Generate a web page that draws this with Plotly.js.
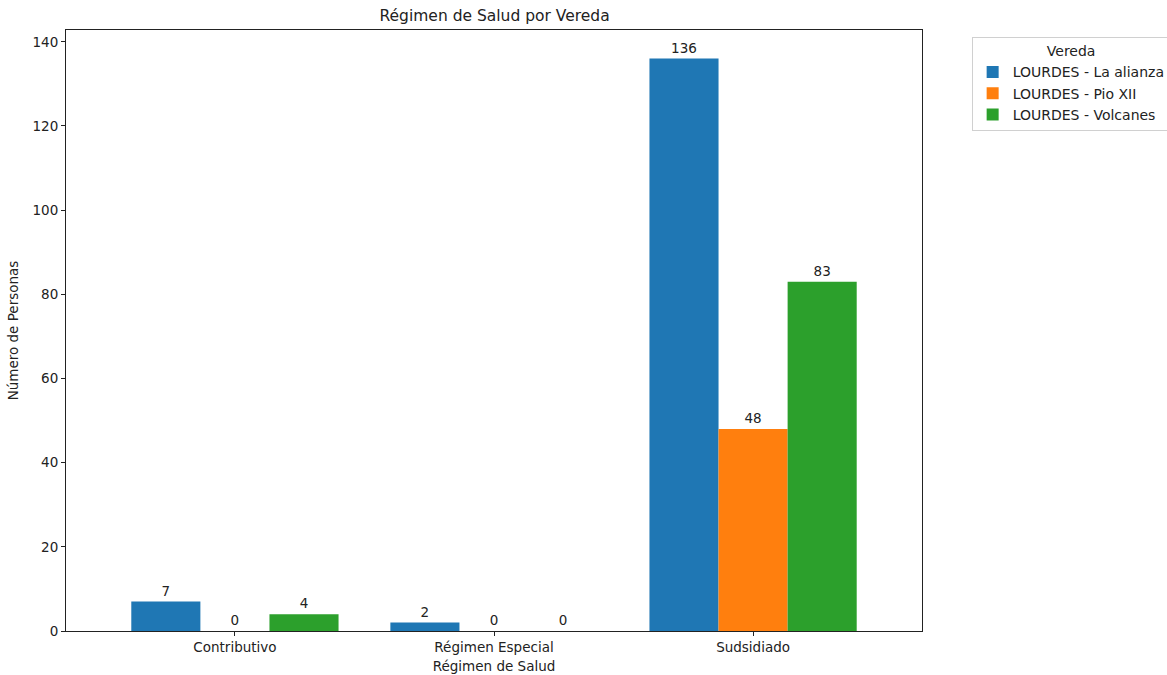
<!DOCTYPE html>
<html><head><meta charset="utf-8">
<script src="https://cdn.plot.ly/plotly-3.0.1.min.js"></script>
<style>html,body{margin:0;padding:0;background:#fff}#chart{width:1167px;height:675px}</style>
</head><body><div id="chart"></div>
<script>
const categories = ["Contributivo", "Régimen Especial", "Sudsidiado"];
const seriesNames = ["LOURDES - La alianza", "LOURDES - Pio XII", "LOURDES - Volcanes"];
const laAlianza = [7, 2, 136];
const pioXII = [0, 0, 48];
const volcanes = [4, 0, 83];
const yTicks = [0, 20, 40, 60, 80, 100, 120, 140];
const colors = ["#1f77b4", "#ff7f0e", "#2ca02c"];

const font = "DejaVu Sans, sans-serif";
const values = [laAlianza, pioXII, volcanes];
const traces = values.map((v, i) => ({
  type: "bar", name: seriesNames[i], x: categories, y: v,
  marker: {color: colors[i], line: {width: 0}},
  text: v.map(String), textposition: "outside", cliponaxis: false,
  textfont: {family: font, size: 13.5, color: "#222"},
  hoverinfo: "none"
}));

const layout = {
  width: 1167, height: 675,
  margin: {l: 66, r: 245, t: 30, b: 44, autoexpand: false},
  paper_bgcolor: "#fff", plot_bgcolor: "#fff",
  font: {family: font, size: 13.5, color: "#222"},
  title: {text: "Régimen de Salud por Vereda", x: 0.4238, xanchor: "center", y: 0.977, yanchor: "middle", font: {family: font, size: 15.5, color: "#222"}},
  barmode: "group", bargap: 0.2, bargroupgap: 0,
  xaxis: {
    range: [-0.652, 2.652], showgrid: false, zeroline: false,
    showline: true, linecolor: "#222", linewidth: 1, mirror: true,
    ticks: "outside", ticklen: 4, tickcolor: "#222",
    tickfont: {family: font, size: 13.5, color: "#222"},
    title: {text: "Régimen de Salud", font: {family: font, size: 13.5, color: "#222"}, standoff: 7}
  },
  yaxis: {
    range: [0, 142.8], tickvals: yTicks, ticktext: yTicks.map(String),
    showgrid: false, zeroline: false,
    showline: true, linecolor: "#222", linewidth: 1, mirror: true,
    ticks: "outside", ticklen: 4, tickcolor: "#222",
    tickfont: {family: font, size: 13.5, color: "#222"},
    title: {text: "Número de Personas", font: {family: font, size: 13.5, color: "#222"}, standoff: 10}
  },
  legend: {
    x: 1.058, y: 0.988, xanchor: "left", yanchor: "top",
    bordercolor: "#d0d0d0", borderwidth: 1, bgcolor: "#fff",
    font: {family: font, size: 14, color: "#222"},
    title: {text: "Vereda", side: "top center", font: {family: font, size: 14, color: "#222"}},
    traceorder: "normal"
  },
  showlegend: true
};
Plotly.newPlot("chart", traces, layout, {displayModeBar: false, staticPlot: true});
</script></body></html>
